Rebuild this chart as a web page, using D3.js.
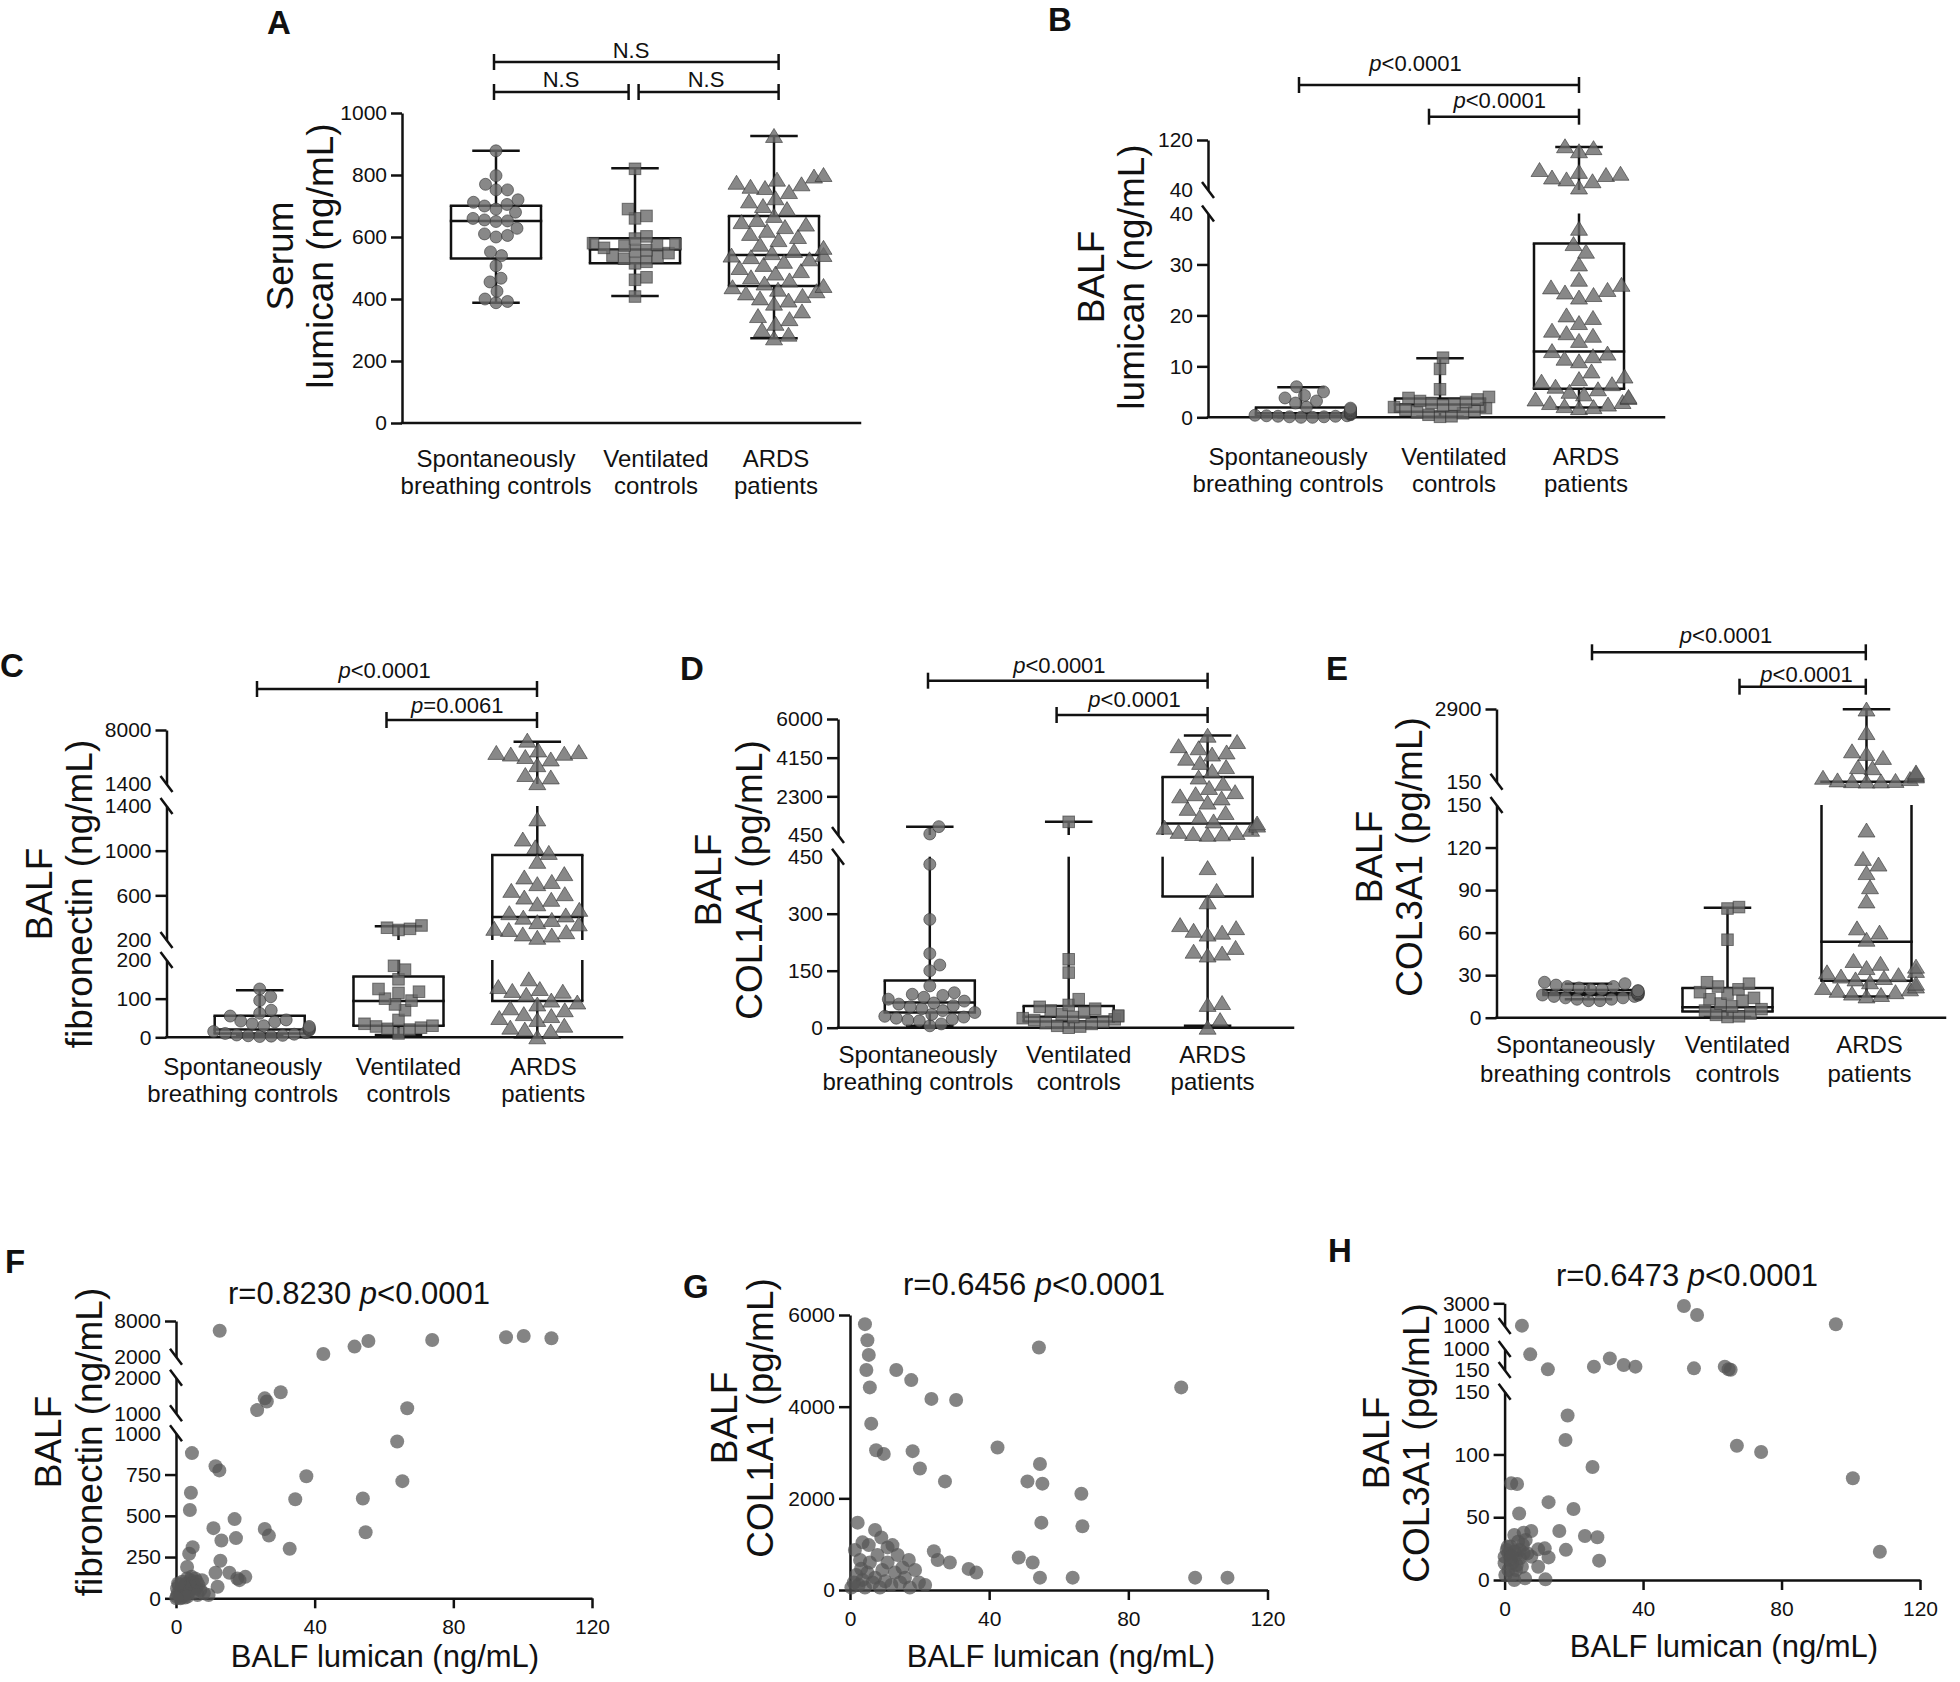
<!DOCTYPE html>
<html><head><meta charset="utf-8">
<script src="https://cdn.jsdelivr.net/npm/d3@7"></script>
<style>body{margin:0;background:#fff}</style>
</head><body>
<script>
// ---------------- DATA ----------------
const catLine1 = ["Spontaneously", "Ventilated", "ARDS"];
const catLine2 = ["breathing controls", "controls", "patients"];

// A: serum lumican (ng/mL)
const serumSBC = [878,798,770,752,752,720,712,705,700,690,680,660,655,652,650,628,610,605,600,552,540,507,467,455,425,400,392,388];
const serumVC = [820,690,668,660,602,595,580,578,575,572,565,558,555,548,540,535,530,520,515,470,462,408];
const serumARDS = [926,800,795,785,775,770,762,758,745,725,715,700,690,668,655,648,640,632,620,610,600,590,575,565,555,548,542,540,535,528,520,510,500,490,482,470,460,450,442,438,430,425,418,410,402,395,385,360,345,335,320,300,285,273];
const serumBox = [[388,531,652,701,878],[410,515,560,596,822],[273,442,542,668,926]];
const serumBreaks = [[0,1000]];
const serumTicks = [[0,200,400,600,800,1000]];

// B: BALF lumican (ng/mL)
const lumSBC = [6.0,5.0,4.3,3.8,3.2,2.8,2.0,1.8,1.6,1.5,1.3,1.2,1.0,0.9,0.8,0.8,0.7,0.6,0.5,0.4,0.3,0.3,0.2,0.2,0.1,0.1,0.0,0.0];
const lumVC = [11.7,9.5,5.5,4.0,3.8,3.5,3.2,3.0,2.8,2.5,2.3,2.0,1.8,1.5,1.2,1.0,0.8,0.5,0.2,0.1];
const lumARDS = [110,107,102,72,69,66,64,60,57,54,44,37,34,32.5,30,27,26,25.5,25,24.5,24,23.5,20,19.5,18.5,17,16.5,16,15,13,12.5,12,11.5,11,9,8,7.5,7,6.5,6,5.5,5,4.5,4,3.8,3.5,3,2.8,2.5,2.2,2,1.8];
const lumBox = [[0,0.3,0.8,1.9,5.9],[0.1,1.1,2.5,3.7,11.6],[1.9,5.6,12.9,34.1,109]];
const lumBreaks = [[0,40],[40,120]];
const lumTicks = [[0,10,20,30,40],[40,120]];

// C: BALF fibronectin (ng/mL)
const fnSBC = [125,105,95,70,62,55,45,42,40,35,30,28,25,22,20,18,15,12,10,8,6,5,4,3,2];
const fnVC = [330,310,300,290,185,175,150,125,118,115,100,95,85,70,45,35,30,28,25,22,20,10];
const fnARDS = [6700,5500,5300,5200,5100,5000,4700,4400,3700,2500,2200,1500,1280,1100,1030,980,900,790,760,720,700,640,610,580,560,520,470,440,420,400,380,360,340,300,290,270,250,240,220,150,130,125,120,118,110,95,90,85,75,70,60,55,50,45,30,25,20,15,0];
const fnBox = [[5,10,20,56,122],[6,30,94,157,323],[0,94,405,961,6550]];
const fnBreaks = [[0,200],[200,1400],[1400,8000]];
const fnTicks = [[0,100,200],[200,600,1000,1400],[1400,8000]];

// D: BALF COL1A1 (pg/mL)
const c1SBC = [850,500,430,285,195,165,150,110,92,88,85,80,75,70,65,62,58,55,50,45,40,35,30,28,25,22,20,18,10,5];
const c1VC = [1080,180,145,75,60,55,50,45,40,35,32,30,28,25,22,20,15,12,10,5,3,0];
const c1ARDS = [5200,4900,4700,4600,4400,4300,4100,3900,3700,3500,3200,2900,2700,2500,2400,2300,2200,2000,1700,1500,1300,1100,1000,900,800,700,600,550,500,480,460,420,360,330,270,262,255,250,245,210,200,195,190,65,60,20,0];
const c1Box = [[5,40,66,124,850],[0,16,29,57,1083],[5,345,1006,3223,5206]];
const c1Breaks = [[0,450],[450,6000]];
const c1Ticks = [[0,150,300,450],[450,2300,4150,6000]];

// E: BALF COL3A1 (pg/mL)
const c3SBC = [25,24,23,22,22,21,20,20,19,19,18,18,18,17,17,17,16,16,16,15,15,14,14,13,13,12,12];
const c3VC = [78,77,55,25,24,22,20,18,17,14,13,12,10,8,6,5,3,2,1,0.5];
const c3ARDS = [2880,1990,1300,1200,1050,700,660,500,450,400,350,300,250,200,180,170,160,155,132,112,108,102,92,82,63,60,55,40,38,36,35,33,32,30,29,28,27,25,24,22,21,20,19,18,17,16,15];
const c3Box = [[13,16,17.5,19.5,24],[0.5,4.3,7.3,21,77.6],[15,26,53.6,152,2890]];
const c3Breaks = [[0,150],[150,2900]];
const c3Ticks = [[0,30,60,90,120,150],[150,2900]];

// F: lumican vs fibronectin
const corrF = [[12.6,6370],[42.5,2450],[51.5,3700],[55.5,4640],[73.9,4800],[95.2,5260],[100.3,5480],[108.3,5100],
 [30.2,1590],[25.6,1420],[26.2,1330],[23.4,1090],[66.7,1140],
 [63.8,950],[4.6,880],[11.4,800],[12.5,775],[37.6,740],[65.3,710],[4.3,640],[34.4,600],[53.9,605],[4.0,535],[16.9,480],[10.8,425],[25.6,420],[54.7,400],[26.8,380],[17.3,365],[13.1,350],[32.8,300],[4.8,310],[3.8,270],[12.8,228],[3.2,190],[11.4,155],[15.4,155],[17.7,120],[20.0,130],[18.3,110],[12.0,70],[9.4,20],
 [0.2,10],[0.5,30],[0.8,80],[1.0,20],[1.2,50],[1.5,5],[1.8,100],[2.0,40],[2.2,70],[2.5,15],[2.8,60],[3.0,90],[3.2,120],[3.5,30],[3.8,80],[4.0,50],[4.2,110],[4.5,130],[4.8,70],[5.0,95],[5.2,40],[5.5,120],[5.8,60],[6.0,100],[6.5,80],[7.0,50],[7.5,110],[8.0,30],[0.3,60],[0.6,90],[1.3,0],[2.6,5],[3.3,10],[6.2,20],[0.1,0]];
const corrFBreaks = [[0,1000],[1000,2000],[2000,8000]];
const corrFTicks = [[0,250,500,750,1000],[1000,2000],[2000,8000]];

// G: lumican vs COL1A1
const corrG = [[4.3,5800],[54.3,5290],[5.0,5450],[5.4,5130],[4.7,4800],[13.3,4800],[17.6,4580],[5.7,4420],[23.4,4170],[30.5,4145],[95.2,4420],
 [42.4,3110],[54.6,2750],[55.3,2320],[51.0,2370],[66.5,2100],[55.0,1470],[6.1,3630],[7.5,3050],[9.7,2970],[18.0,3030],[20.1,2650],[27.3,2370],
 [2.2,1470],[7.2,1310],[3.6,1040],[10.8,930],[12.2,980],[24.1,845],[16.9,655],[25.2,655],[28.7,600],[34.1,460],[36.3,380],[48.5,710],[52.5,600],
 [64,270],[99.2,270],[108.5,270],[54.6,270],[66.8,1390],
 [0.4,55],[1.1,165],[1.8,330],[2.5,110],[3.2,465],[3.6,220],[4.3,55],[5.0,380],[5.7,600],[6.5,165],[7.2,270],[7.9,765],[8.6,55],[9.3,435],[10.1,190],[10.8,600],[11.9,110],[12.9,380],[14.4,165],[15.8,270],[17.2,55],[19.8,165],[21.6,110],[1.4,875],[2.9,655],[5.4,980],[9.0,1145],[13.7,765],[15.1,490],[18.7,435]];
const corrGBreaks = [[0,6000]];
const corrGTicks = [[0,2000,4000,6000]];

// H: lumican vs COL3A1
const corrH = [[51.8,2760],[55.6,1970],[5.0,1030],[95.7,1150],
 [7.4,784],[30.4,620],[12.5,177],[25.8,285],[34.4,352],[37.8,285],[54.7,217],[63.6,285],[65.3,160],[64.7,180],
 [18.2,131],[17.6,111.5],[67.1,107],[74.1,102],[25.4,90],[100.6,81],[1.9,77],[3.6,76.5],[12.7,62],[19.9,56.5],[4.2,53],[15.8,39],[7.7,39],[5.5,37.7],[2.8,35.8],[23.2,35],[26.8,34],[17.7,24],[108.4,22.5],[11.6,25.2],[9.7,24.4],[12.7,18],[27.3,15.4],[9.7,10.6],[11.8,0.5],[5.9,1.3],[2.8,0],
 [0,18.6],[1.1,21.2],[1.7,15.9],[0.6,23.9],[2.2,13.3],[3.3,19.9],[4.4,17.3],[5.3,27.9],[3.9,30.5],[6.1,31.9],[1.1,8.0],[3.3,8.0],[2.2,4.0],[0.2,4.0],[4.4,23.9],[6.6,21.2],[7.7,18.6],[1.7,26.6],[2.8,22.6],[0,13.3],[0.9,26.6],[3.5,11.9],[5.0,10.6],[5.5,21.2],[2.0,18.6]];
const corrHBreaks = [[0,150],[150,1000],[1000,3000]];
const corrHTicks = [[0,50,100,150],[150,1000],[1000,3000]];
const xTicksCorr = [0,40,80,120];

// ---------------- DRAWING ----------------
const W = 1960, H = 1682;
const FONT = "'Liberation Sans', Arial, Helvetica, sans-serif";
const INK = "#111";
const LW = 2.5;
const TICKFS = 21, TITLEFS = 37, CORRFS = 31;
const svg = d3.select("body").append("svg").attr("width", W).attr("height", H)
  .style("font-family", FONT);
svg.append("rect").attr("width", W).attr("height", H).attr("fill", "#fff");

function makeSegs(breaks, ranges, ticks) {
  return breaks.map((d, i) => ({d, r: ranges[i], ticks: ticks[i], scale: d3.scaleLinear().domain(d).range(ranges[i])}));
}
function yPos(S, v) {
  for (const s of S) { if (v <= s.d[1]) return s.scale(Math.max(v, s.d[0])); }
  const l = S[S.length - 1]; return l.scale(l.d[1]);
}
function segOf(S, v) { for (let i = 0; i < S.length; i++) if (v <= S[i].d[1]) return i; return S.length - 1; }
function line(g, x1, y1, x2, y2, w) {
  return g.append("line").attr("x1", x1).attr("y1", y1).attr("x2", x2).attr("y2", y2)
    .attr("stroke", INK).attr("stroke-width", w || LW).attr("stroke-linecap", "square");
}
function drawYAxis(g, S, ax) {
  S.forEach((s, i) => {
    const axis = d3.axisLeft(s.scale).tickValues(s.ticks).tickSize(11).tickSizeOuter(0)
      .tickPadding(4).tickFormat(d => d);
    const ga = g.append("g").attr("transform", `translate(${ax},0)`).call(axis)
      .attr("font-family", FONT).attr("font-size", TICKFS).style("color", INK);
    ga.select(".domain").attr("stroke-width", LW);
    ga.selectAll(".tick line").attr("stroke-width", LW);
    ga.selectAll(".tick").filter(d => (i > 0 && d === s.d[0]) || (i < S.length - 1 && d === s.d[1]))
      .select("line").remove();
    if (i > 0) line(g, ax - 6, s.scale(s.d[0]) - 8, ax + 6, s.scale(s.d[0]) + 8, LW).attr("stroke-linecap", "butt");
    if (i < S.length - 1) line(g, ax - 6, s.scale(s.d[1]) - 8, ax + 6, s.scale(s.d[1]) + 8, LW).attr("stroke-linecap", "butt");
  });
}
function yTitle(g, lines, xs, cy) {
  lines.forEach((t, i) => {
    g.append("text").attr("transform", `translate(${xs[i]},${cy}) rotate(-90)`)
      .attr("text-anchor", "middle").attr("font-size", TITLEFS).attr("fill", INK).text(t);
  });
}
function letter(t, x, y) {
  svg.append("text").attr("x", x).attr("y", y).attr("font-size", 33).attr("font-weight", "bold")
    .attr("fill", INK).text(t);
}
function pText(g, x, y, pre, rest, fs) {
  const t = g.append("text").attr("x", x).attr("y", y).attr("text-anchor", "middle")
    .attr("font-size", fs).attr("fill", INK);
  if (pre) t.append("tspan").text(pre);
  t.append("tspan").attr("font-style", "italic").text("p");
  t.append("tspan").text(rest);
  return t;
}
function bracket(g, b) {
  line(g, b.x1, b.y, b.x2, b.y, LW).attr("stroke-linecap", "butt");
  line(g, b.x1, b.y - 8, b.x1, b.y + 8, LW).attr("stroke-linecap", "butt");
  line(g, b.x2, b.y - 8, b.x2, b.y + 8, LW).attr("stroke-linecap", "butt");
  if (b.label === "N.S") {
    g.append("text").attr("x", b.lx).attr("y", b.ly).attr("text-anchor", "middle").attr("font-size", 22).attr("fill", INK).text("N.S");
  } else {
    pText(g, b.lx, b.ly, "", b.label, 22);
  }
}
const SYM = {
  circle: {d: 11.5, draw: (g, x, y) => g.append("circle").attr("cx", x).attr("cy", y).attr("r", 6)},
  square: {d: 11.5, draw: (g, x, y) => g.append("rect").attr("x", x - 5.8).attr("y", y - 5.8).attr("width", 11.6).attr("height", 11.6)},
  tri: {d: 14.5, draw: (g, x, y) => g.append("path").attr("d", `M${x},${y - 7.5}L${x + 8.5},${y + 6.5}L${x - 8.5},${y + 6.5}Z`)}
};
function swarm(vals, S, cx, sym, maxHalf) {
  const pts = vals.map(v => ({v, y: yPos(S, v)})).sort((a, b) => b.y - a.y);
  const placed = [];
  const d = SYM[sym].d;
  pts.forEach(p => {
    let off = 0;
    for (let k = 0; k < 800; k++) {
      const o = k === 0 ? 0 : (k % 2 ? 1 : -1) * Math.ceil(k / 2) * 0.5;
      if (Math.abs(o) > maxHalf) { off = o; break; }
      let ok = true;
      for (const q of placed) {
        const dx = q.x - o, dy = q.y - p.y;
        if (dx * dx + dy * dy < d * d) { ok = false; break; }
      }
      if (ok) { off = o; break; }
    }
    placed.push({x: off, y: p.y});
  });
  return placed.map(p => ({x: cx + p.x, y: p.y}));
}
function drawBox(g, S, cx, bw, cw, st) {
  const [mn, q1, md, q3, mx] = st;
  const si = v => segOf(S, v);
  S.forEach((s, i) => {
    const lo = s.d[0], hi = s.d[1];
    const cl = v => Math.max(lo, Math.min(hi, v));
    const inS = v => si(v) === i;
    if (si(q3) >= i && si(q1) <= i) {
      const y1 = s.scale(cl(q1)), y2 = s.scale(cl(q3));
      line(g, cx - bw / 2, y1, cx - bw / 2, y2).attr("stroke-linecap", "butt");
      line(g, cx + bw / 2, y1, cx + bw / 2, y2).attr("stroke-linecap", "butt");
    }
    [q1, md, q3].forEach(v => { if (inS(v)) line(g, cx - bw / 2, s.scale(v), cx + bw / 2, s.scale(v)); });
    if (si(mx) >= i && si(q3) <= i) line(g, cx, s.scale(cl(q3)), cx, s.scale(cl(mx))).attr("stroke-linecap", "butt");
    if (si(q1) >= i && si(mn) <= i) line(g, cx, s.scale(cl(mn)), cx, s.scale(cl(q1))).attr("stroke-linecap", "butt");
    if (inS(mx)) line(g, cx - cw / 2, s.scale(mx), cx + cw / 2, s.scale(mx));
    if (inS(mn)) line(g, cx - cw / 2, s.scale(mn), cx + cw / 2, s.scale(mn));
  });
}

function boxPanel(cfg) {
  const g = svg.append("g");
  const S = makeSegs(cfg.breaks, cfg.ranges, cfg.ticks);
  const xc = d3.scalePoint().domain([0, 1, 2]).range([cfg.centers[0], cfg.centers[2]]);
  const y0 = cfg.ranges[0][0];
  line(g, cfg.ax, y0, cfg.end, y0, LW);
  drawYAxis(g, S, cfg.ax);
  cfg.boxes.forEach((b, i) => drawBox(g, S, xc(i), cfg.boxW, cfg.boxW / 2, b));
  const syms = ["circle", "square", "tri"];
  cfg.groups.forEach((vals, i) => {
    const pts = swarm(vals, S, xc(i), syms[i], cfg.boxW / 2 + 4);
    const pg = g.append("g").attr("fill", "#6a6a6a").attr("fill-opacity", 0.8)
      .attr("stroke", "#333").attr("stroke-opacity", 0.6).attr("stroke-width", 1);
    pts.forEach(p => SYM[syms[i]].draw(pg, p.x, p.y));
  });
  [0, 1, 2].forEach(i => {
    const x = xc(i) + cfg.labDx[i];
    g.append("text").attr("x", x).attr("y", cfg.labY[0]).attr("text-anchor", "middle").attr("font-size", 24).attr("fill", INK).text(catLine1[i]);
    g.append("text").attr("x", x).attr("y", cfg.labY[1]).attr("text-anchor", "middle").attr("font-size", 24).attr("fill", INK).text(catLine2[i]);
  });
  cfg.brackets.forEach(b => bracket(g, b));
  yTitle(g, cfg.title, cfg.titleX, cfg.titleY);
  letter(cfg.letter, cfg.lx, cfg.ly);
}

function corrPanel(cfg) {
  const g = svg.append("g");
  const S = makeSegs(cfg.breaks, cfg.ranges, cfg.ticks);
  const x = d3.scaleLinear().domain([0, 120]).range(cfg.xr);
  const y0 = cfg.ranges[0][0];
  const xa = g.append("g").attr("transform", `translate(0,${y0})`)
    .call(d3.axisBottom(x).tickValues(xTicksCorr).tickSize(10).tickSizeOuter(0).tickPadding(11))
    .attr("font-family", FONT).attr("font-size", TICKFS).style("color", INK);
  xa.select(".domain").attr("stroke-width", LW);
  xa.selectAll(".tick line").attr("stroke-width", LW);
  drawYAxis(g, S, cfg.xr[0]);
  const pg = g.append("g").attr("fill", "#555").attr("fill-opacity", 0.72);
  cfg.data.forEach(d => pg.append("circle").attr("cx", x(d[0])).attr("cy", yPos(S, d[1])).attr("r", 7));
  pText(g, cfg.tx, cfg.ty, cfg.r + " ", "<0.0001", CORRFS);
  g.append("text").attr("x", cfg.xtx).attr("y", cfg.xty).attr("text-anchor", "middle").attr("font-size", CORRFS).attr("fill", INK).text("BALF lumican (ng/mL)");
  yTitle(g, cfg.title, cfg.titleX, cfg.titleY);
  letter(cfg.letter, cfg.lx, cfg.ly);
}

boxPanel({letter: "A", lx: 267, ly: 34, breaks: serumBreaks, ticks: serumTicks, ranges: [[423, 113]],
  ax: 402, end: 860, centers: [496, 635, 774], boxW: 90, labDx: [0, 21, 2], labY: [467, 494],
  boxes: serumBox, groups: [serumSBC, serumVC, serumARDS],
  title: ["Serum", "lumican (ng/mL)"], titleX: [293, 333], titleY: 256,
  brackets: [{x1: 494, x2: 778.6, y: 62, label: "N.S", lx: 631, ly: 58},
             {x1: 494, x2: 628.6, y: 92, label: "N.S", lx: 561, ly: 87},
             {x1: 638.6, x2: 778.6, y: 92, label: "N.S", lx: 706, ly: 87}]});

boxPanel({letter: "B", lx: 1048, ly: 31, breaks: lumBreaks, ticks: lumTicks, ranges: [[417.3, 213.5], [190, 140]],
  ax: 1208, end: 1664, centers: [1301, 1440, 1579], boxW: 90, labDx: [-13, 14, 7], labY: [465, 492],
  boxes: lumBox, groups: [lumSBC, lumVC, lumARDS],
  title: ["BALF", "lumican (ng/mL)"], titleX: [1103.5, 1143.5], titleY: 277,
  brackets: [{x1: 1299, x2: 1579, y: 85, label: "<0.0001", lx: 1415.5, ly: 70.7},
             {x1: 1429, x2: 1579, y: 116.7, label: "<0.0001", lx: 1499.7, ly: 108.3}]});

boxPanel({letter: "C", lx: 0, ly: 677, breaks: fnBreaks, ticks: fnTicks, ranges: [[1037.3, 960], [940, 806], [784, 730]],
  ax: 166.5, end: 622, centers: [259.7, 398.5, 537.3], boxW: 90, labDx: [-17, 10, 6], labY: [1075, 1102],
  boxes: fnBox, groups: [fnSBC, fnVC, fnARDS],
  title: ["BALF", "fibronectin (ng/mL)"], titleX: [51.5, 91.5], titleY: 894,
  brackets: [{x1: 257, x2: 537, y: 689, label: "<0.0001", lx: 384.6, ly: 678.3},
             {x1: 386.5, x2: 537, y: 720, label: "=0.0061", lx: 457.3, ly: 713.3}]});

boxPanel({letter: "D", lx: 680, ly: 680, breaks: c1Breaks, ticks: c1Ticks, ranges: [[1027.7, 856.7], [835, 719]],
  ax: 838, end: 1293, centers: [929.8, 1068.7, 1207.6], boxW: 90, labDx: [-12, 10, 5], labY: [1063, 1090],
  boxes: c1Box, groups: [c1SBC, c1VC, c1ARDS],
  title: ["BALF", "COL1A1 (pg/mL)"], titleX: [721, 762], titleY: 880,
  brackets: [{x1: 928, x2: 1207.6, y: 680.7, label: "<0.0001", lx: 1059.4, ly: 673.3},
             {x1: 1056.6, x2: 1207.6, y: 715, label: "<0.0001", lx: 1134.5, ly: 706.7}]});

boxPanel({letter: "E", lx: 1326, ly: 680, breaks: c3Breaks, ticks: c3Ticks, ranges: [[1017.7, 805], [781.7, 709]],
  ax: 1496.5, end: 1945, centers: [1588.5, 1727.5, 1866.5], boxW: 90, labDx: [-13, 10, 3], labY: [1053, 1082],
  boxes: c3Box, groups: [c3SBC, c3VC, c3ARDS],
  title: ["BALF", "COL3A1 (pg/mL)"], titleX: [1382, 1422], titleY: 857,
  brackets: [{x1: 1592, x2: 1865.8, y: 652.3, label: "<0.0001", lx: 1726, ly: 643.3},
             {x1: 1739.5, x2: 1865.8, y: 686.7, label: "<0.0001", lx: 1806.5, ly: 681.7}]});

corrPanel({letter: "F", lx: 5, ly: 1273, breaks: corrFBreaks, ticks: corrFTicks,
  ranges: [[1598.3, 1433.3], [1413.3, 1377.7], [1356.7, 1321]], xr: [176, 592], data: corrF,
  r: "r=0.8230", tx: 359, ty: 1304, xtx: 385, xty: 1667,
  title: ["BALF", "fibronectin (ng/mL)"], titleX: [61, 102], titleY: 1442});

corrPanel({letter: "G", lx: 683, ly: 1298, breaks: corrGBreaks, ticks: corrGTicks,
  ranges: [[1590, 1315]], xr: [850, 1267.5], data: corrG,
  r: "r=0.6456", tx: 1034, ty: 1295, xtx: 1061, xty: 1667,
  title: ["BALF", "COL1A1 (pg/mL)"], titleX: [737, 773], titleY: 1418});

corrPanel({letter: "H", lx: 1328, ly: 1262, breaks: corrHBreaks, ticks: corrHTicks,
  ranges: [[1580, 1391.7], [1370, 1349], [1326, 1303.3]], xr: [1504.6, 1920], data: corrH,
  r: "r=0.6473", tx: 1687, ty: 1286, xtx: 1724, xty: 1657,
  title: ["BALF", "COL3A1 (pg/mL)"], titleX: [1389, 1429], titleY: 1443});
</script>
</body></html>
